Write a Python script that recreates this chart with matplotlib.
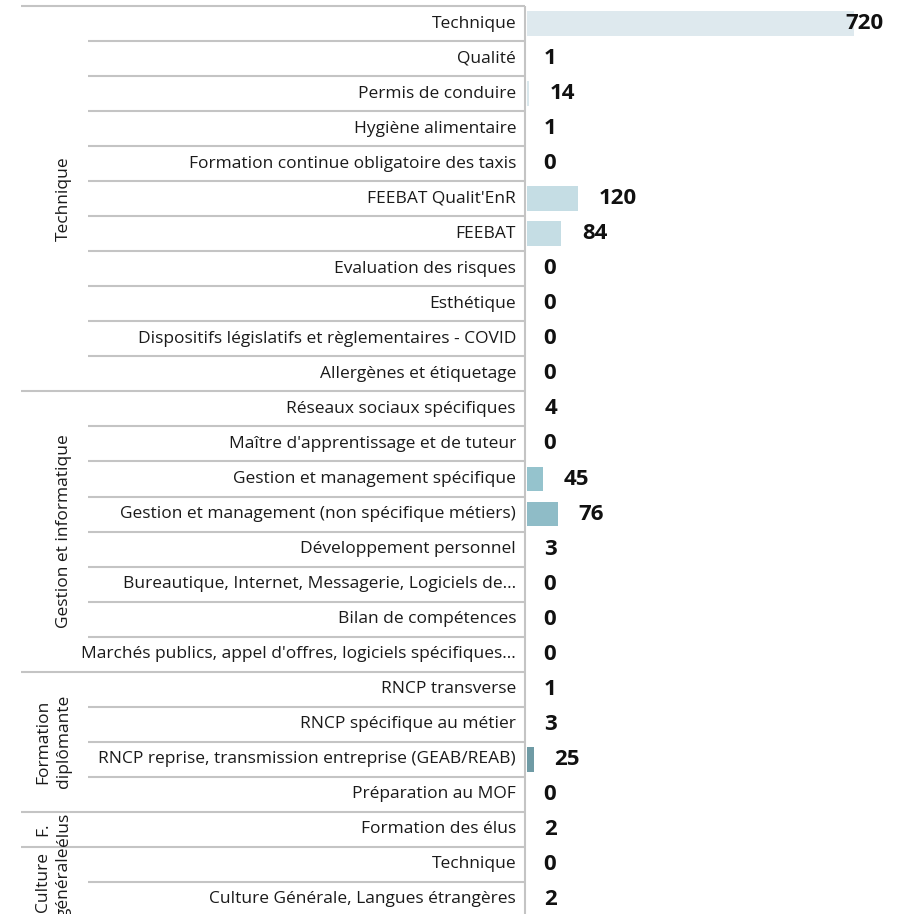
import matplotlib
matplotlib.use("Agg")
import matplotlib.pyplot as plt
from matplotlib.transforms import blended_transform_factory

plt.rcParams['font.family'] = ['Open Sans', 'DejaVu Sans']

# training themes, grouped by category (top to bottom)
groups = ["Technique", "Gestion et informatique", "Formation\ndiplômante",
          "F.\nélus", "Culture\ngénérale"]
group_sizes = [11, 8, 4, 1, 2]

items = [
    "Technique", "Qualité", "Permis de conduire", "Hygiène alimentaire",
    "Formation continue obligatoire des taxis", "FEEBAT Qualit'EnR", "FEEBAT",
    "Evaluation des risques", "Esthétique",
    "Dispositifs législatifs et règlementaires - COVID", "Allergènes et étiquetage",
    "Réseaux sociaux spécifiques", "Maître d'apprentissage et de tuteur",
    "Gestion et management spécifique",
    "Gestion et management (non spécifique métiers)", "Développement personnel",
    "Bureautique, Internet, Messagerie, Logiciels de…", "Bilan de compétences",
    "Marchés publics, appel d'offres, logiciels spécifiques…",
    "RNCP transverse", "RNCP spécifique au métier",
    "RNCP reprise, transmission entreprise (GEAB/REAB)", "Préparation au MOF",
    "Formation des élus",
    "Technique", "Culture Générale, Langues étrangères",
]
values = [720, 1, 14, 1, 0, 120, 84, 0, 0, 0, 0,
          4, 0, 45, 76, 3, 0, 0, 0,
          1, 3, 25, 0,
          2,
          0, 2]
bar_colors = ["#dee9ee", "#d9e7ec", "#d9e7ec", "#d9e7ec", "#d9e7ec", "#c5dde4",
              "#c5dde4", "#c5dde4", "#c5dde4", "#c5dde4", "#c5dde4",
              "#95c3cd", "#95c3cd", "#95c3cd", "#8fbcc7", "#95c3cd", "#95c3cd",
              "#95c3cd", "#95c3cd",
              "#6f9ba5", "#6f9ba5", "#6f9ba5", "#6f9ba5",
              "#5a8793",
              "#4d7580", "#4d7580"]

W, H = 906, 914
line_color = "#c4c4c4"
text_color = "#1a1a1a"

fig = plt.figure(figsize=(W / 100, H / 100), dpi=100)
# plotting area: from the axis line to the right edge, rows of ~35 px
ax_left, ax_right = 527, 890
ax_top, ax_bottom = 6, 917
ax = fig.add_axes([ax_left / W, (H - ax_bottom) / H,
                   (ax_right - ax_left) / W, (ax_bottom - ax_top) / H])

n = len(items)
rows = list(range(n))
ax.barh(rows, values, height=0.7, color=bar_colors)
ax.set_ylim(n - 0.5, -0.5)
ax.set_xlim(9.56, 798.2)
ax.axis("off")

# value labels to the right of each bar, kept inside the chart
px_per_unit = (ax_right - ax_left) / (798.2 - 9.56)
for r, v in zip(rows, values):
    label = str(v)
    end_px = ax_left + (v - 9.56) * px_per_unit
    if end_px + 20.5 + 12.8 * len(label) > 886:
        ax.annotate(label, xy=(1, r), xycoords=("axes fraction", "data"),
                    xytext=(-4.5, 0), textcoords="offset points",
                    ha="right", va="center", fontsize=16, fontweight="bold",
                    color="#111111", annotation_clip=False)
    else:
        ax.annotate(label, xy=(v, r), xytext=(14.8, 0),
                    textcoords="offset points", ha="left", va="center",
                    fontsize=16, fontweight="bold", color="#111111",
                    annotation_clip=False)

trans = blended_transform_factory(fig.transFigure, ax.transData)

# item labels, right aligned against the axis line
for r, name in zip(rows, items):
    ax.text(516 / W, r, name, transform=trans, ha="right", va="center",
            fontsize=12.5, color=text_color)

# separators: short ones between items, long ones between groups
starts = [0]
for s in group_sizes:
    starts.append(starts[-1] + s)
for r in range(n + 1):
    y = r - 0.5
    x0 = 21 if r in starts else 88
    ax.plot([x0 / W, 525 / W], [y, y], transform=trans, color=line_color,
            lw=1.5, clip_on=False, solid_capstyle="butt")

# vertical axis line
ax.plot([525 / W, 525 / W], [-0.5, n - 0.5], transform=trans, color=line_color,
        lw=1.5, clip_on=False, solid_capstyle="butt")

# group labels, rotated
for g, s0, s in zip(groups, starts, group_sizes):
    mid = s0 + (s - 1) / 2
    ax.text(72 / W, mid, g, transform=trans, rotation=90, ha="right",
            va="center", multialignment="center", fontsize=12.5,
            color=text_color, linespacing=1.4)

fig.savefig("out.png", dpi=100)
